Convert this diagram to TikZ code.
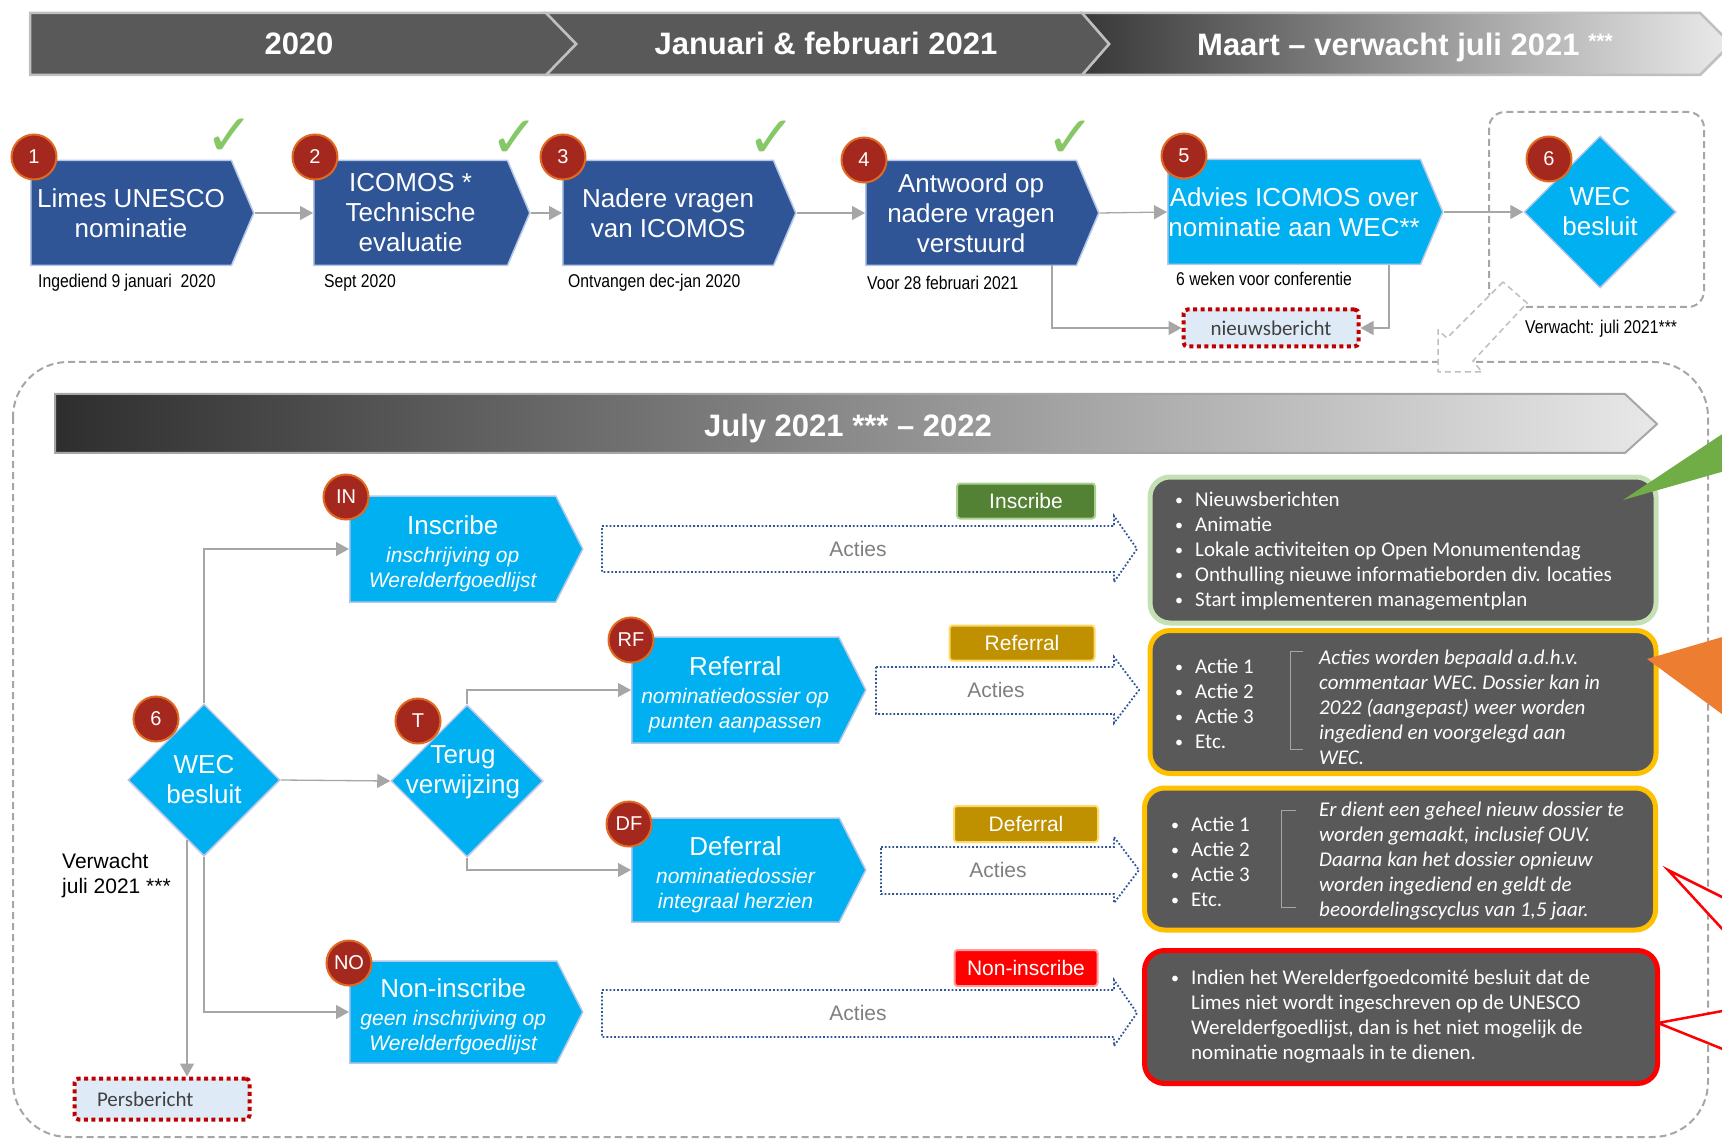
\documentclass[tikz,border=0pt]{standalone}
\usepackage{fontspec}
\setmainfont{Liberation Sans}
\newfontfamily\narrowfont[FakeStretch=0.85]{Liberation Sans}
\newfontfamily\calfont{Carlito}
\newfontfamily\vinkfont{DejaVu Sans}
\usetikzlibrary{shapes.symbols,shapes.geometric,arrows.meta}
\definecolor{stepblue}{HTML}{2F5597}
\definecolor{skyblue}{HTML}{00B0F0}
\definecolor{edgeblue}{HTML}{B4C7E7}
\definecolor{badgered}{HTML}{A5281E}
\definecolor{badgeedge}{HTML}{E06A22}
\definecolor{headgray}{HTML}{595959}
\definecolor{headedge}{HTML}{BFBFBF}
\definecolor{linegray}{HTML}{A6A6A6}
\definecolor{checkgreen}{HTML}{86C866}
\definecolor{dotred}{HTML}{C00000}
\definecolor{paleblue}{HTML}{DEEBF7}
\definecolor{textgray}{HTML}{404040}
\definecolor{actgray}{HTML}{7F7F7F}
\definecolor{tagolive}{HTML}{548235}
\definecolor{olivedge}{HTML}{A9D18E}
\definecolor{taggold}{HTML}{BF9000}
\definecolor{goldedge}{HTML}{FFD966}
\definecolor{tagred}{HTML}{FF0000}
\definecolor{rededge}{HTML}{FF9B9B}
\definecolor{amber}{HTML}{FFC000}
\definecolor{palegreen}{HTML}{C5E0B4}
\definecolor{calloutorange}{HTML}{ED7D31}
\definecolor{calloutgreen}{HTML}{70AD47}
\definecolor{boxgray}{HTML}{595959}
\newcommand\sublabel{\itshape\fontsize{21}{25}\selectfont}
\newcommand\optitle{\rule{0pt}{28pt}}
\newcommand\punt{\llap{\raisebox{1pt}{\fontsize{16}{16}\selectfont\textbullet}\hspace{12pt}}}
\tikzset{
  flow/.style={draw=linegray, line width=1.3pt, -{Triangle[length=13pt,width=14pt]}},
  stepbox/.style={signal, signal to=east, signal pointer angle=134, anchor=west, fill=stepblue, draw=edgeblue, line width=1.5pt, inner sep=0pt, minimum height=105pt, text=white, align=center, font=\fontsize{26}{30}\selectfont},
  optionbox/.style={stepbox, fill=skyblue, signal pointer angle=126, minimum height=106pt, font=\fontsize{26}{25}\selectfont},
  besluit/.style={diamond, aspect=1, fill=skyblue, draw=edgeblue, line width=1.5pt, inner sep=0pt, minimum width=152pt, minimum height=152pt},
  besluittext/.style={text=white, align=center, inner sep=0pt, font=\fontsize{26}{30}\selectfont},
  badge/.style={circle, fill=badgered, draw=badgeedge, line width=2pt, minimum size=45pt, inner sep=0pt, text=white, font=\fontsize{20}{20}\selectfont},
  vink/.style={inner sep=0pt, text=checkgreen, font=\vinkfont\fontsize{58}{58}\selectfont},
  datum/.style={anchor=west, inner sep=0pt, font=\narrowfont\fontsize{18.5}{21}\selectfont},
  bericht/.style={rectangle, rounded corners=4pt, fill=paleblue, draw=dotred, line width=4pt, dash pattern=on 4pt off 3.5pt, inner sep=0pt, text=textgray, font=\calfont\fontsize{21}{21}\selectfont},
  kop/.style={text=white, text height=22pt, text depth=0pt, font=\bfseries\fontsize{31}{31}\selectfont},
  tag/.style={rectangle, rounded corners=3pt, line width=2pt, inner sep=0pt, minimum height=35pt, text=white, font=\fontsize{21}{21}\selectfont},
  acties/.style={draw=stepblue, line width=1.8pt, dotted},
  actlabel/.style={text=actgray, font=\fontsize{21}{21}\selectfont},
  infobox/.style={rectangle, rounded corners=20pt, fill=boxgray, line width=5pt},
  infotext/.style={anchor=west, inner sep=0pt, text=white, align=left, font=\calfont\fontsize{21}{25}\selectfont},
  haak/.style={draw=linegray, line width=1pt},
  omkader/.style={draw=linegray, line width=2pt, dash pattern=on 7pt off 4pt, rounded corners=16pt},
}
\begin{document}
\begin{tikzpicture}[x=1pt,y=-1pt]
\useasboundingbox (0,0) rectangle (1722,1139);
\clip (0,0) rectangle (1722,1139);
\shadedraw[left color=black!78, right color=black!8, draw=headedge, line width=2.5pt] (1082,13) -- (1700,13) -- (1731,44) -- (1700,75) -- (1082,75) -- (1109,44) -- cycle;
\filldraw[fill=headgray, draw=headedge, line width=2.5pt] (546,13) -- (1082,13) -- (1109,44) -- (1082,75) -- (546,75) -- (576,44) -- cycle;
\filldraw[fill=headgray, draw=headedge, line width=2.5pt] (30,13) -- (546,13) -- (576,44) -- (546,75) -- (30,75) -- cycle;
\node[kop] (k1) at (299,44) {2020};
\node[kop] (k2) at (826,44) {Januari \& februari 2021};
\node[kop] (k3) at (1405,45) {Maart – verwacht juli 2021 \smash{\raisebox{7pt}{\fontsize{21}{21}\selectfont ***}}};

\draw[omkader, rounded corners=55pt] (13,362) rectangle (1708,1137);
\draw[omkader] (1489,112) rectangle (1704,307);
\filldraw[fill=white, draw=headedge, line width=1.5pt, dash pattern=on 6pt off 4pt] (1503,282) -- (1447,338) -- (1438,330) -- (1438,372) -- (1482,372) -- (1473,361) -- (1527,303) -- cycle;

\node[stepbox, minimum width=223pt] (s1) at (30,213) {Limes UNESCO\\nominatie};
\node[stepbox, minimum width=216pt] (s2) at (313,213) {ICOMOS *\\Technische\\evaluatie};
\node[stepbox, minimum width=233pt] (s3) at (562,213) {Nadere vragen\\van ICOMOS};
\node[stepbox, minimum width=233pt] (s4) at (865,213) {Antwoord op\\nadere vragen\\verstuurd};
\node[stepbox, fill=skyblue, minimum width=275pt] (s5) at (1167,212) {Advies ICOMOS over\\nominatie aan WEC**};
\node[besluit, label={[besluittext]center:WEC\\besluit}] (w1) at (1600,212) {};
\node[badge] (b1) at (34,157) {1};
\node[badge] (b2) at (315,157) {2};
\node[badge] (b3) at (563,157) {3};
\node[badge] (b4) at (864,160) {4};
\node[badge] (b5) at (1184,156) {5};
\node[badge] (b6) at (1549,159) {6};
\node[vink] (v1) at (230,137) {✓};
\node[vink] (v2) at (515,139) {✓};
\node[vink] (v3) at (772,139) {✓};
\node[vink] (v4) at (1071,139) {✓};
\node[datum] (d1) at (38,283) {Ingediend 9 januari~~2020};
\node[datum] (d2) at (324,283) {Sept 2020};
\node[datum] (d3) at (568,283) {Ontvangen dec-jan 2020};
\node[datum] (d4) at (867,283) {Voor 28 februari 2021};
\node[datum] (d5) at (1176,279) {6 weken voor conferentie};
\node[datum] (d6) at (1525,329) {Verwacht: juli 2021***};
\node[bericht, minimum width=175pt, minimum height=37pt] (nb) at (1271,328) {nieuwsbericht};
\draw[flow] (s1.east) -- (s2.west);
\draw[flow] (s2.east) -- (s3.west);
\draw[flow] (s3.east) -- (s4.west);
\draw[flow] (s4.east) -- (s5.west);
\draw[flow] (s5.east) -- (w1.west);
\draw[flow] ([xshift=187pt,yshift=-52.5pt]s4.west) |- (nb.west);
\draw[flow] ([xshift=222pt,yshift=-53pt]s5.west) |- (nb.east);

\shadedraw[left color=black!82, right color=black!9, draw=linegray, line width=2pt] (55,394) -- (1625,394) -- (1657,424) -- (1625,453) -- (55,453) -- cycle;
\node[kop] (k4) at (848,425) {July 2021 *** – 2022};

\node[besluit, label={[besluittext]center:WEC\\besluit}] (w2) at (204,780) {};
\node[besluit, label={[besluittext, xshift=-4pt, yshift=9pt]center:Terug\\verwijzing}] (tv) at (467,781) {};
\node[optionbox, minimum width=233pt] (ins) at (349,549) {\optitle Inscribe\\[3pt]\sublabel inschrijving op\\\sublabel Werelderfgoedlijst};
\node[optionbox, minimum width=234pt] (ref) at (631,690) {\optitle Referral\\[3pt]\sublabel nominatiedossier op\\\sublabel punten aanpassen};
\node[optionbox, minimum width=234pt, minimum height=104pt] (def) at (631,870) {\optitle Deferral\\[3pt]\sublabel nominatiedossier\\\sublabel integraal herzien};
\node[optionbox, minimum width=233pt, minimum height=102pt] (non) at (349,1012) {\optitle Non-inscribe\\[3pt]\sublabel geen inschrijving op\\\sublabel Werelderfgoedlijst};
\node[badge] (b6l) at (156,719) {6};
\node[badge] (bin) at (346,497) {IN};
\node[badge] (brf) at (631,640) {RF};
\node[badge] (bt) at (418,721) {T};
\node[badge] (bdf) at (629,824) {DF};
\node[badge] (bno) at (349,963) {NO};
\node[anchor=west, align=left, inner sep=0pt, font=\fontsize{21}{25}\selectfont] (vw) at (62,876) {Verwacht\\juli 2021 ***};
\node[bericht, minimum width=175pt, minimum height=41pt, text width=130pt, align=left] (pb) at (162,1099) {Persbericht};
\draw[flow] (w2.north) |- (ins.west);
\draw[flow] (w2.east) -- (tv.west);
\draw[flow] (tv.north) |- (ref.west);
\draw[flow] (tv.south) |- (def.west);
\draw[flow] (w2.south) |- (non.west);
\draw[flow] ([xshift=-17pt,yshift=17pt]w2.south) -- ([xshift=25pt]pb.north);

\draw[acties] (602,526) -- (1114,526) -- (1114,516) -- (1137,549) -- (1114,582) -- (1114,572) -- (602,572) -- cycle;
\node[actlabel] (a1) at (858,549) {Acties};
\draw[acties] (876,667) -- (1114,667) -- (1114,657) -- (1139,690) -- (1114,723) -- (1114,714) -- (876,714) -- cycle;
\node[actlabel] (a2) at (996,690) {Acties};
\draw[acties] (881,847) -- (1114,847) -- (1114,837) -- (1139,870) -- (1114,903) -- (1114,894) -- (881,894) -- cycle;
\node[actlabel] (a3) at (998,870) {Acties};
\draw[acties] (602,990) -- (1114,990) -- (1114,980) -- (1137,1013) -- (1114,1046) -- (1114,1037) -- (602,1037) -- cycle;
\node[actlabel] (a4) at (858,1013) {Acties};
\node[tag, fill=tagolive, draw=olivedge, minimum width=138pt] (ti) at (1026,501) {Inscribe};
\node[tag, fill=taggold, draw=goldedge, minimum width=145pt] (tr) at (1022,643) {Referral};
\node[tag, fill=taggold, draw=goldedge, minimum width=144pt, minimum height=36pt] (td) at (1026,824) {Deferral};
\node[tag, fill=tagred, draw=rededge, minimum width=143pt, minimum height=36pt] (tn) at (1026,968) {Non-inscribe};

\node[infobox, draw=palegreen, minimum width=506pt, minimum height=146pt] (ib1) at (1403,550) {};
\node[infobox, draw=amber, minimum width=506pt, minimum height=143pt] (ib2) at (1403,702) {};
\node[infobox, draw=amber, minimum width=511pt, minimum height=142pt] (ib3) at (1400,859) {};
\node[infobox, draw=tagred, minimum width=513pt, minimum height=133pt] (ib4) at (1401,1017) {};
\node[infotext] (t1) at (1195,551) {\punt Nieuwsberichten\\\punt Animatie\\\punt Lokale activiteiten op Open Monumentendag\\\punt Onthulling nieuwe informatieborden div. locaties\\\punt Start implementeren managementplan};
\node[infotext] (l2) at (1195,704) {\punt Actie 1\\\punt Actie 2\\\punt Actie 3\\\punt Etc.};
\draw[haak] (1303,651) -- (1290,651) -- (1290,749) -- (1303,749);
\node[infotext, font=\calfont\itshape\fontsize{21}{25}\selectfont] (i2) at (1319,707) {Acties worden bepaald a.d.h.v.\\commentaar WEC. Dossier kan in\\2022 (aangepast) weer worden\\ingediend en voorgelegd aan\\WEC.};
\node[infotext] (l3) at (1191,862) {\punt Actie 1\\\punt Actie 2\\\punt Actie 3\\\punt Etc.};
\draw[haak] (1296,810) -- (1281,810) -- (1281,907) -- (1296,907);
\node[infotext, font=\calfont\itshape\fontsize{21}{25}\selectfont] (i3) at (1319,861) {Er dient een geheel nieuw dossier te\\worden gemaakt, inclusief OUV.\\Daarna kan het dossier opnieuw\\worden ingediend en geldt de\\beoordelingscyclus van 1,5 jaar.};
\node[infotext] (t4) at (1191,1017) {\punt Indien het Werelderfgoedcomité besluit dat de\\Limes niet wordt ingeschreven op de UNESCO\\Werelderfgoedlijst, dan is het niet mogelijk de\\nominatie nogmaals in te dienen.};

\fill[calloutgreen] (1623,500) -- (1760,409) -- (1760,461) -- cycle;
\fill[calloutorange] (1647,659) -- (1760,626) -- (1760,742) -- cycle;
\filldraw[fill=white, draw=tagred, line width=2.5pt] (1668,870) -- (1760,916) -- (1760,970) -- cycle;
\filldraw[fill=white, draw=tagred, line width=2.5pt] (1658,1023) -- (1760,1004) -- (1760,1064) -- cycle;
\end{tikzpicture}
\end{document}
